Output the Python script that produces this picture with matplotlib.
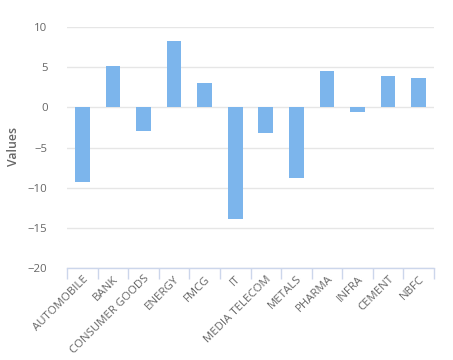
import matplotlib
matplotlib.use("Agg")
import matplotlib.pyplot as plt
import numpy as np

categories = ["AUTOMOBILE", "BANK", "CONSUMER GOODS", "ENERGY", "FMCG", "IT",
              "MEDIA TELECOM", "METALS", "PHARMA", "INFRA", "CEMENT", "NBFC"]
values = [-9.35, 5.18, -2.9, 8.3, 3.0, -13.9, -3.15, -8.75, 4.48, -0.55, 3.95, 3.6]
yticks = [-20, -15, -10, -5, 0, 5, 10]

plt.rcParams['font.family'] = ['Open Sans', 'DejaVu Sans']

fig = plt.figure(figsize=(4.53, 3.6), dpi=100)
ax = fig.add_axes([67/453, 1-268/360, (434-67)/453, (268-27)/360])

x = np.arange(len(categories))
ax.bar(x, values, width=0.48, color="#7cb5ec", zorder=3, linewidth=0)

ax.set_xlim(-0.5, len(categories)-0.5)
ax.set_ylim(-20, 10)
ax.set_yticks(yticks)
ax.set_yticklabels([str(t).replace('-', '\u2212') for t in yticks], color="#666666", fontsize=8.2)
ax.yaxis.grid(True, color="#e6e6e6", linewidth=1, zorder=0)
ax.tick_params(axis='y', length=0, pad=14)

ax.set_xticks(x)
ax.set_xticklabels(categories, rotation=45, ha='right', rotation_mode='anchor',
                   color="#666666", fontsize=8.2)
ax.tick_params(axis='x', length=0, pad=4)
ax.set_xticks(np.arange(len(categories)+1)-0.5, minor=True)
ax.tick_params(axis='x', which='minor', length=8, color="#ccd6eb", width=1)

for s in ['top', 'right', 'left']:
    ax.spines[s].set_visible(False)
ax.spines['bottom'].set_color("#ccd6eb")
ax.spines['bottom'].set_linewidth(1)

ax.set_ylabel("Values", color="#666666", fontsize=8.8, fontweight='semibold')
ax.yaxis.set_label_coords(-0.127, 0.506)

fig.savefig("out.png", dpi=100)
